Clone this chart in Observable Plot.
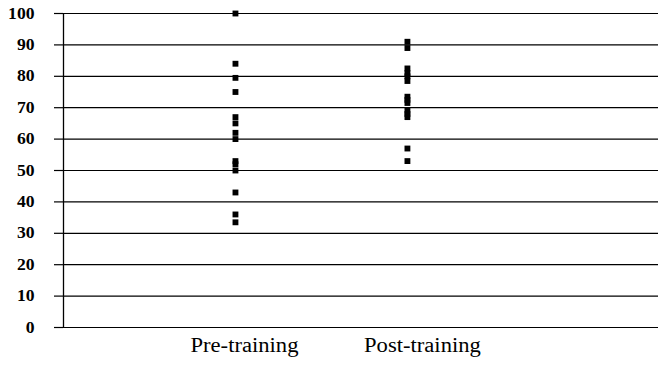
<!DOCTYPE html>
<html><head><meta charset="utf-8">
<script src="https://cdn.jsdelivr.net/npm/d3@7"></script>
<script src="https://cdn.jsdelivr.net/npm/@observablehq/plot@0.6"></script>
<style>
body{margin:0;background:#fff}
</style>
</head><body><div id="chart"></div>
<script>
const categories = ["Pre-training", "Post-training"];
const preValues = [100, 84, 79.5, 75, 67, 65, 62, 60, 53, 52, 50, 43, 36, 33.5];
const postValues = [91, 89, 82.5, 81, 80, 78.5, 73.5, 72.5, 71.5, 69, 68, 67, 57, 53];
const yTicks = [0, 10, 20, 30, 40, 50, 60, 70, 80, 90, 100];

const points = [
  ...preValues.map(v => ({cat: 1, value: v})),
  ...postValues.map(v => ({cat: 2, value: v}))
];
const catLabels = categories.map((c, i) => ({pos: i + 1, label: c}));

const chart = Plot.plot({
  width: 658,
  height: 365,
  marginLeft: 63,
  marginRight: 0,
  marginTop: 13,
  marginBottom: 38,
  style: {fontFamily: "'Liberation Serif', serif", background: "#fff", color: "#000"},
  x: {type: "linear", domain: [0, 3.46], axis: null},
  y: {domain: [0, 100], axis: null},
  marks: [
    Plot.ruleY(yTicks, {stroke: "#000", strokeWidth: 1.2}),
    Plot.axisY({ticks: yTicks, label: null, tickSize: 9, stroke: "#000", strokeWidth: 1.2, tickFormat: () => ""}),
    Plot.text(yTicks, {x: 0, y: d => d, text: d => String(d), textAnchor: "end", dx: -29, fontSize: 16, fontWeight: "bold", fontFamily: "'Liberation Serif', serif", fill: "#000"}),
    Plot.ruleX([0], {stroke: "#000", strokeWidth: 1.3}),
    Plot.dot(points, {x: "cat", y: "value", symbol: "square", r: 3.3, fill: "#000", stroke: "none"}),
    Plot.text(catLabels.slice(0, 1), {x: "pos", text: "label", frameAnchor: "bottom", dy: 24, dx: 9, fontSize: 20, fill: "#000"}),
    Plot.text(catLabels.slice(1), {x: "pos", text: "label", frameAnchor: "bottom", dy: 24, dx: 15, fontSize: 20, fill: "#000"})
  ]
});
document.getElementById("chart").append(chart);

// slight horizontal stretch of the texts, as in the scanned original
chart.querySelectorAll("text").forEach(t => {
  const s = t.textContent.trim();
  if (!s) return;
  const k = categories.includes(s) ? 1.13 : 1.1;
  const w = t.getComputedTextLength();
  if (w > 0) {
    t.setAttribute("textLength", (w * k).toFixed(1));
    t.setAttribute("lengthAdjust", "spacingAndGlyphs");
  }
});
</script>
</body></html>
